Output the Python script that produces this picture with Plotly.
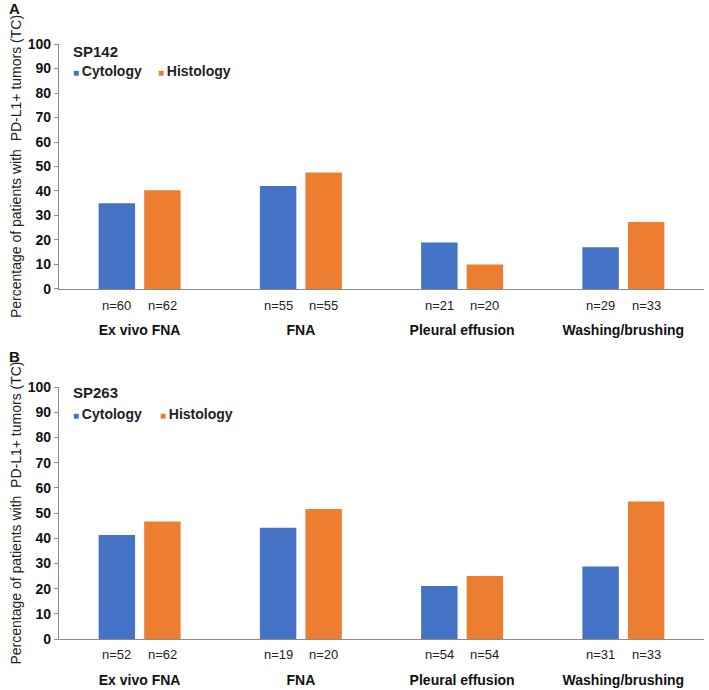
import plotly.graph_objects as go

categories = ["Ex vivo FNA", "FNA", "Pleural effusion", "Washing/brushing"]
series_names = ["Cytology", "Histology"]
colors = ["#4472C4", "#ED7D31"]

# Panel A: SP142
a_cyto = [35.0, 42.0, 19.0, 17.0]
a_histo = [40.3, 47.5, 10.0, 27.3]
a_n_cyto = ["n=60", "n=55", "n=21", "n=29"]
a_n_histo = ["n=62", "n=55", "n=20", "n=33"]

# Panel B: SP263
b_cyto = [41.3, 44.2, 21.0, 28.8]
b_histo = [46.6, 51.6, 25.0, 54.6]
b_n_cyto = ["n=52", "n=19", "n=54", "n=31"]
b_n_histo = ["n=62", "n=20", "n=54", "n=33"]

y_ticks = [0, 10, 20, 30, 40, 50, 60, 70, 80, 90, 100]
y_title = "Percentage of patients with  PD-L1+ tumors (TC)"

FONT = "Liberation Sans, Arial, sans-serif"
BARGAP = 0.435
GROUPGAP = 0.2

fig = go.Figure()

panels = [
    dict(x="x", y="y", cyto=a_cyto, histo=a_histo, nc=a_n_cyto, nh=a_n_histo,
         label="A", name="SP142", dom=[0.5812, 0.9362], ly=88.8, ny=-17, ty=97.0,
         py=0.988, hx=0.150),
    dict(x="x2", y="y2", cyto=b_cyto, histo=b_histo, nc=b_n_cyto, nh=b_n_histo,
         label="B", name="SP263", dom=[0.0739, 0.4391], ly=89.2, ny=-15, ty=98.0,
         py=0.483, hx=0.1535),
]

annotations = []
offset = (1 - BARGAP) / 4.0

for p in panels:
    for vals, nm, col in [(p["cyto"], series_names[0], colors[0]),
                          (p["histo"], series_names[1], colors[1])]:
        fig.add_trace(go.Bar(x=categories, y=vals, name=nm, marker_color=col,
                             marker_line_width=0, xaxis=p["x"], yaxis=p["y"],
                             showlegend=False))
    # n labels under each bar
    for i in range(len(categories)):
        for lab, sgn in [(p["nc"][i], -1), (p["nh"][i], 1)]:
            annotations.append(dict(x=i + sgn * offset, y=0, xref=p["x"], yref=p["y"],
                                    text=lab, showarrow=False, yanchor="middle",
                                    yshift=p["ny"], font=dict(family=FONT, size=13, color="#222")))
    annotations.append(dict(x=0.019, y=p["ty"], xref=p["x"] + " domain", yref=p["y"],
                            text="<b>" + p["name"] + "</b>", showarrow=False,
                            xanchor="left", yanchor="middle",
                            font=dict(family=FONT, size=15, color="#222")))
    annotations.append(dict(x=0.019, y=p["ly"], xref=p["x"] + " domain", yref=p["y"],
                            text="<span style='color:%s;font-size:10px'>■ </span><b>%s</b>" % (colors[0], series_names[0]),
                            showarrow=False, xanchor="left", yanchor="middle",
                            font=dict(family=FONT, size=14, color="#222")))
    annotations.append(dict(x=p["hx"], y=p["ly"], xref=p["x"] + " domain", yref=p["y"],
                            text="<span style='color:%s;font-size:10px'>■ </span><b>%s</b>" % (colors[1], series_names[1]),
                            showarrow=False, xanchor="left", yanchor="middle",
                            font=dict(family=FONT, size=14, color="#222")))
    annotations.append(dict(x=-0.080, y=p["py"], xref="paper", yref="paper",
                            text="<b>" + p["label"] + "</b>", showarrow=False,
                            xanchor="left", yanchor="middle",
                            font=dict(family=FONT, size=15, color="#111")))

axis_common_x = dict(showline=True, linecolor="#8c8c8c", linewidth=1.2, ticks="",
                     showgrid=False, zeroline=False, range=[-0.5, 3.5], automargin=False,
                     tickfont=dict(family=FONT, size=14, color="#111", weight="bold"),
                     ticklabelstandoff=28)
axis_common_y = dict(showline=True, linecolor="#8c8c8c", linewidth=1.2, ticks="outside",
                     ticklen=4, tickcolor="#8c8c8c", showgrid=False, zeroline=False,
                     range=[0, 100], tickvals=y_ticks, automargin=False,
                     tickfont=dict(family=FONT, size=14, color="#111", weight="bold"),
                     title=dict(text=y_title, font=dict(family=FONT, size=14, color="#222"),
                                standoff=2))

fig.update_layout(
    width=709, height=690,
    margin=dict(l=59, r=5, t=0, b=0, autoexpand=False),
    paper_bgcolor="white", plot_bgcolor="white",
    barmode="group", bargap=BARGAP, bargroupgap=GROUPGAP,
    xaxis=dict(domain=[0, 1], anchor="y", **axis_common_x),
    yaxis=dict(domain=panels[0]["dom"], anchor="x", **axis_common_y),
    xaxis2=dict(domain=[0, 1], anchor="y2", **axis_common_x),
    yaxis2=dict(domain=panels[1]["dom"], anchor="x2", **axis_common_y),
    annotations=annotations,
    showlegend=False,
)

fig.write_html("out.html", config={"displayModeBar": False},
               post_script="document.body.style.margin='0';document.body.style.overflow='hidden';")
